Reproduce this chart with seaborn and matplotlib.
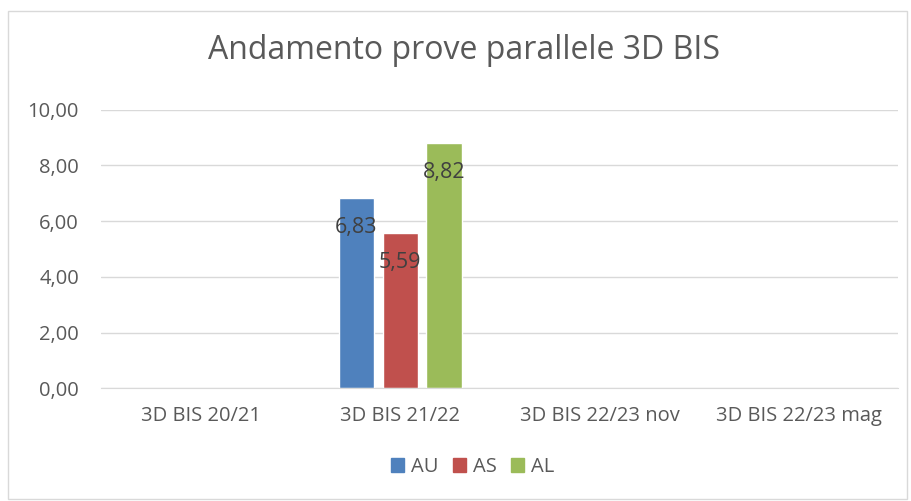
import pandas as pd
import numpy as np
import matplotlib.pyplot as plt
import seaborn as sns
from matplotlib.patches import Rectangle

categories = ["3D BIS 20/21", "3D BIS 21/22", "3D BIS 22/23 nov", "3D BIS 22/23 mag"]
series = ["AU", "AS", "AL"]
au = [np.nan, 6.83, np.nan, np.nan]
as_ = [np.nan, 5.59, np.nan, np.nan]
al = [np.nan, 8.82, np.nan, np.nan]
colors = ["#4F81BD", "#C0504D", "#9BBB59"]

rows = []
for name, vals in zip(series, [au, as_, al]):
    for cat, v in zip(categories, vals):
        rows.append({"cat": cat, "serie": name, "val": v})
df = pd.DataFrame(rows)

sns.set_style("white")
plt.rcParams["font.family"] = ["Open Sans", "DejaVu Sans"]
txt = "#595959"

fig = plt.figure(figsize=(9.12, 5.01), dpi=100)
ax = fig.add_axes([0.111, 0.225, 0.874, 0.556])

sns.barplot(data=df, x="cat", y="val", hue="serie", order=categories,
            hue_order=series, palette=colors, width=0.66, gap=0.2,
            saturation=1, ax=ax, legend=False)

# etichette dentro la cima delle barre
for cont in ax.containers:
    for bar in cont:
        h = bar.get_height()
        if np.isnan(h) or h == 0:
            continue
        ax.annotate(f"{h:.2f}".replace(".", ","),
                    (bar.get_x() + bar.get_width() / 2, h),
                    xytext=(0, -21.5), textcoords="offset points",
                    ha="center", va="center", fontsize=15.5, color="#404040")

ax.set_ylim(0, 10)
ax.set_yticks(np.arange(0, 10.01, 2))
ax.set_yticklabels([f"{v:.2f}".replace(".", ",") for v in np.arange(0, 10.01, 2)])
ax.set_xlim(-0.5, 3.5)
ax.grid(axis="y", color="#D9D9D9", linewidth=1)
ax.set_axisbelow(True)
for s in ["top", "right", "left"]:
    ax.spines[s].set_visible(False)
ax.spines["bottom"].set_color("#D9D9D9")
ax.tick_params(axis="both", length=0, labelsize=14.5, labelcolor=txt)
ax.tick_params(axis="y", pad=16)
ax.tick_params(axis="x", pad=13)
ax.set_xlabel("")
ax.set_ylabel("")

fig.text(0.509, 0.9, "Andamento prove parallele 3D BIS", ha="center",
         va="center", fontsize=23, color=txt)

handles = [Rectangle((0, 0), 1, 1, color=c) for c in colors]
fig.legend(handles, series, loc="center", bbox_to_anchor=(0.518, 0.068),
           ncol=3, frameon=False, fontsize=14.5, labelcolor=txt,
           handlelength=0.65, handleheight=0.65, handletextpad=0.35,
           columnspacing=0.7)

fig.add_artist(Rectangle((0.009, 0.004), 0.985, 0.975, transform=fig.transFigure,
                         fill=False, edgecolor="#D9D9D9", linewidth=1))

fig.savefig("out.png", dpi=100)
